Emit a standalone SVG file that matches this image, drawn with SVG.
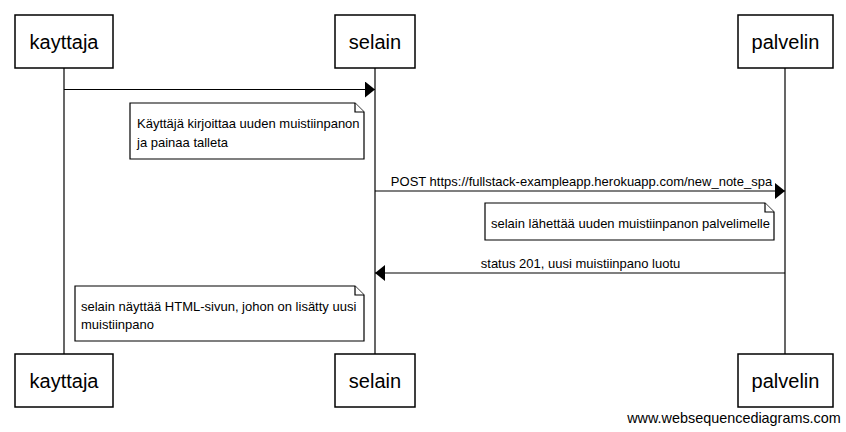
<svg xmlns="http://www.w3.org/2000/svg" width="846" height="432" viewBox="0 0 846 432">
<style>
.box{fill:#fff;stroke:#000;stroke-width:1.5}
.life{stroke:#000;stroke-width:1.2}
.msg{stroke:#000;stroke-width:1.2;fill:none}
.note{fill:#fff;stroke:#000;stroke-width:1.2}
.pt{font-family:"Liberation Sans",Arial,sans-serif;font-size:20px;fill:#000;text-anchor:middle}
.t{font-family:"Liberation Sans",Arial,sans-serif;font-size:13px;fill:#000}
.m{text-anchor:middle}
.wm{font-family:"Liberation Sans",Arial,sans-serif;font-size:14.4px;fill:#000;text-anchor:middle}
</style>
<defs>
<marker id="ah" viewBox="0 0 10 16" refX="10" refY="8" markerWidth="10" markerHeight="16" markerUnits="userSpaceOnUse" orient="auto">
<path d="M0,0 L10,8 L0,16 Z" fill="#000"/>
</marker>
</defs>
<g id="lifelines">
<line class="life" x1="64" y1="68" x2="64" y2="354"/>
<line class="life" x1="375" y1="68" x2="375" y2="354"/>
<line class="life" x1="785" y1="68" x2="785" y2="354"/>
</g>
<g id="kayttaja">
<rect class="box" x="15" y="15" width="98" height="53"/>
<text class="pt" x="64" y="49">kayttaja</text>
<rect class="box" x="15" y="354" width="98" height="53"/>
<text class="pt" x="64" y="388">kayttaja</text>
</g>
<g id="selain">
<rect class="box" x="335" y="15" width="80" height="53"/>
<text class="pt" x="375" y="49">selain</text>
<rect class="box" x="335" y="354" width="80" height="53"/>
<text class="pt" x="375" y="388">selain</text>
</g>
<g id="palvelin">
<rect class="box" x="738" y="15" width="95" height="53"/>
<text class="pt" x="785.5" y="49">palvelin</text>
<rect class="box" x="738" y="354" width="95" height="53"/>
<text class="pt" x="785.5" y="388">palvelin</text>
</g>
<g id="connectors">
<line class="msg" x1="64" y1="89.5" x2="375" y2="89.5" marker-end="url(#ah)"/>
<line class="msg" x1="375" y1="191" x2="785" y2="191" marker-end="url(#ah)"/>
<text class="t m" x="581.5" y="186">POST https://fullstack-exampleapp.herokuapp.com/new_note_spa</text>
<line class="msg" x1="785" y1="273" x2="375" y2="273" marker-end="url(#ah)"/>
<text class="t m" x="580.5" y="268">status 201, uusi muistiinpano luotu</text>
</g>
<g id="note1">
<path class="note" d="M130,103 H355 L364,112 V159 H130 Z"/>
<path class="note" d="M355,103 V112 H364" fill="none"/>
<text class="t" x="137" y="128">Käyttäjä kirjoittaa uuden muistiinpanon</text>
<text class="t" x="137" y="147">ja painaa talleta</text>
</g>
<g id="note2">
<path class="note" d="M485,203 H765 L774,212 V240 H485 Z"/>
<path class="note" d="M765,203 V212 H774" fill="none"/>
<text class="t" x="491" y="228">selain lähettää uuden muistiinpanon palvelimelle</text>
</g>
<g id="note3">
<path class="note" d="M75,286 H355 L364,295 V341 H75 Z"/>
<path class="note" d="M355,286 V295 H364" fill="none"/>
<text class="t" x="81" y="311">selain näyttää HTML-sivun, johon on lisätty uusi</text>
<text class="t" x="81" y="329">muistiinpano</text>
</g>
<text class="wm" x="734" y="423">www.websequencediagrams.com</text>
</svg>
